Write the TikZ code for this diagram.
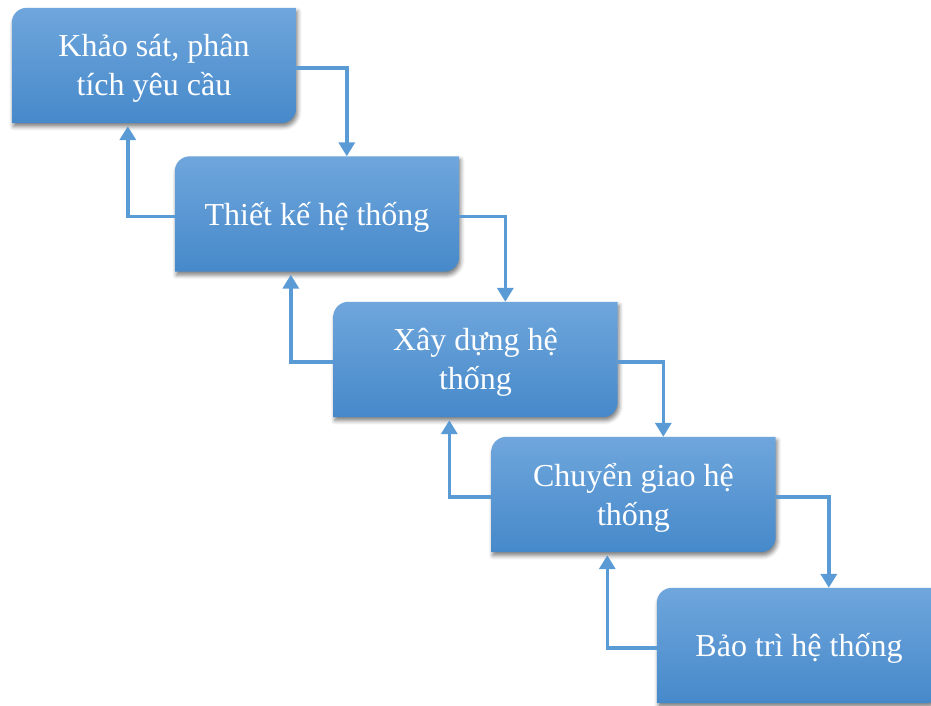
\documentclass[tikz,border=0pt]{standalone}
\usepackage{fontspec}
\setmainfont{Liberation Serif}
\usetikzlibrary{arrows.meta,backgrounds,shadows.blur}

\definecolor{boxtop}{HTML}{6FA6DC}
\definecolor{boxbot}{HTML}{4689CA}
\definecolor{linkblue}{HTML}{5B9BD5}

\tikzset{
  stage/.style={minimum width=284pt, minimum height=115pt, inner sep=0pt},
  caption/.style={inner sep=0pt, text=white, align=center,
    font=\fontsize{32}{39}\selectfont},
  panel/.style={top color=boxtop, bottom color=boxbot,
    blur shadow={shadow xshift=1.5pt, shadow yshift=-3.5pt,
      shadow blur radius=4pt, shadow opacity=50}},
  link/.style={draw=linkblue, line width=3.6pt,
    -{Triangle[width=16pt,length=14pt]}}
}

% panel with rounded top-left and bottom-right corners behind a stage node
\newcommand\stagepanel[1]{%
  \path[panel] (#1.south west)
    -- ([yshift=-15pt]#1.north west) arc[start angle=180,end angle=90,radius=15pt]
    -- (#1.north east)
    -- ([yshift=15pt]#1.south east) arc[start angle=0,end angle=-90,radius=15pt]
    -- cycle;}

\begin{document}
\begin{tikzpicture}[x=1pt,y=-1pt]
  \useasboundingbox (0,0) rectangle (931,706);

  \node[stage] (b1) at (154,65.5)    {};
  \node[stage] (b2) at (317,214)     {};
  \node[stage] (b3) at (475.5,359.5) {};
  \node[stage] (b4) at (633.5,494.5) {};
  \node[stage] (b5) at (799,645.5)   {};

  \begin{scope}[on background layer]
    \stagepanel{b1}
    \stagepanel{b2}
    \stagepanel{b3}
    \stagepanel{b4}
    \stagepanel{b5}
  \end{scope}

  \node[caption] (t1) at ([yshift=-3pt]b1.center) {Khảo sát, phân\\tích yêu cầu};
  \node[caption] (t2) at ([yshift=-3pt]b2.center) {Thiết kế hệ thống};
  \node[caption] (t3) at ([yshift=-3pt]b3.center) {Xây dựng hệ\\thống};
  \node[caption] (t4) at ([yshift=-3pt]b4.center) {Chuyển giao hệ\\thống};
  \node[caption] (t5) at ([yshift=-3pt]b5.center) {Bảo trì hệ thống};

  % forward steps
  \draw[link] ([yshift=-2.5pt]b1.east) -| ([xshift=172pt]b2.north west);
  \draw[link] ([yshift=-2.5pt]b2.east) -| ([xshift=172pt]b3.north west);
  \draw[link] ([yshift=-2.5pt]b3.east) -| ([xshift=172pt]b4.north west);
  \draw[link] ([yshift=-2.5pt]b4.east) -| ([xshift=172pt]b5.north west);

  % feedback steps
  \draw[link] ([yshift=-2.5pt]b2.west) -| ([xshift=116pt,yshift=-3pt]b1.south west);
  \draw[link] ([yshift=-2.5pt]b3.west) -| ([xshift=116pt,yshift=-3pt]b2.south west);
  \draw[link] ([yshift=-2.5pt]b4.west) -| ([xshift=116pt,yshift=-3pt]b3.south west);
  \draw[link] ([yshift=-2.5pt]b5.west) -| ([xshift=116pt,yshift=-3pt]b4.south west);
\end{tikzpicture}
\end{document}
